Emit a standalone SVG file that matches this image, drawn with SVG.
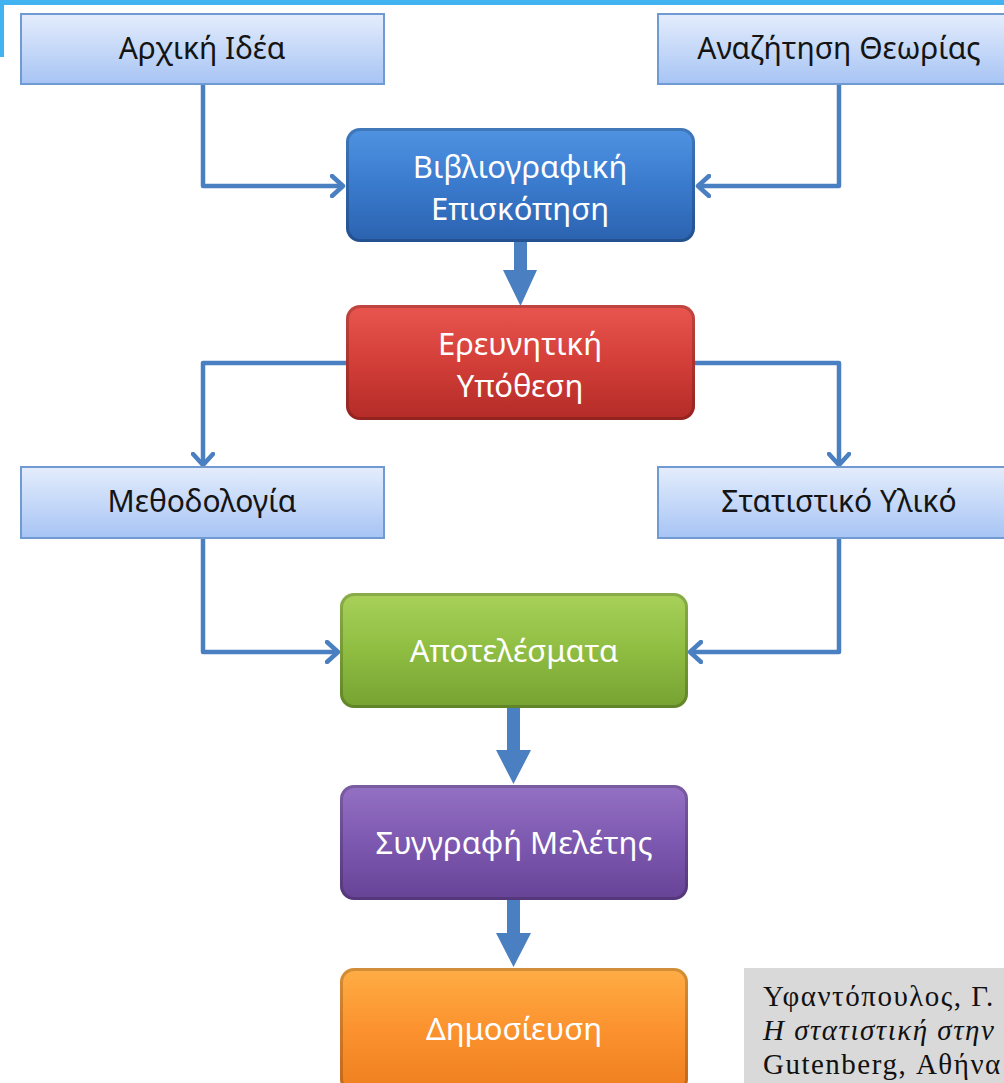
<svg xmlns="http://www.w3.org/2000/svg" width="1004" height="1083" viewBox="0 0 1004 1083">
<style>
.lt{font-family:"Noto Sans","DejaVu Sans",sans-serif;font-size:30px;fill:#141414;text-anchor:middle}
.wt{font-family:"Noto Sans","DejaVu Sans",sans-serif;font-size:31px;fill:#ffffff;text-anchor:middle}
.lbox{fill:url(#gl);stroke:#6f9bd2;stroke-width:2}
.conn{fill:none;stroke:#4a7fc1;stroke-width:4.5;stroke-linejoin:round}
.thick{fill:#4a7fc1}
.cit{font-family:"Liberation Serif","DejaVu Serif",serif;font-size:29px;letter-spacing:1.5px;fill:#111}
.sh{fill:none;stroke:#000;stroke-opacity:0.18;stroke-width:3}
</style>
<defs>
<linearGradient id="gl" x1="0" y1="0" x2="0" y2="1"><stop offset="0" stop-color="#e4edfc"/><stop offset="1" stop-color="#a7c4f4"/></linearGradient>
<linearGradient id="gb" x1="0" y1="0" x2="0" y2="1"><stop offset="0" stop-color="#4f93e2"/><stop offset="0.5" stop-color="#3a7acd"/><stop offset="1" stop-color="#2b62ae"/></linearGradient>
<linearGradient id="gr" x1="0" y1="0" x2="0" y2="1"><stop offset="0" stop-color="#e9564f"/><stop offset="0.5" stop-color="#d33e38"/><stop offset="1" stop-color="#b32b27"/></linearGradient>
<linearGradient id="gg" x1="0" y1="0" x2="0" y2="1"><stop offset="0" stop-color="#a8d15a"/><stop offset="0.5" stop-color="#8fbd42"/><stop offset="1" stop-color="#76a231"/></linearGradient>
<linearGradient id="gp" x1="0" y1="0" x2="0" y2="1"><stop offset="0" stop-color="#9571c4"/><stop offset="0.5" stop-color="#7d58b0"/><stop offset="1" stop-color="#674396"/></linearGradient>
<linearGradient id="go" x1="0" y1="0" x2="0" y2="1"><stop offset="0" stop-color="#ffad45"/><stop offset="0.5" stop-color="#fb922e"/><stop offset="1" stop-color="#ee7e1e"/></linearGradient>
<marker id="open" viewBox="0 0 16 24" refX="13" refY="12" markerWidth="16" markerHeight="24" markerUnits="userSpaceOnUse" orient="auto">
<path d="M2,2 L13,12 L2,22" fill="none" stroke="#4a7fc1" stroke-width="4.5" stroke-linecap="round" stroke-linejoin="round"/>
</marker>
</defs>
<rect width="1004" height="1083" fill="#ffffff"/>
<g id="frame">
<rect x="0" y="0" width="1004" height="5" fill="#41b3f0"/>
<rect x="0" y="0" width="4" height="57" fill="#41b3f0"/>
</g>
<g id="connectors">
<path class="conn" d="M203,84 V186 H343" marker-end="url(#open)"/>
<path class="conn" d="M839,84 V186 H698" marker-end="url(#open)"/>
<path class="conn" d="M346,363 H203 V465" marker-end="url(#open)"/>
<path class="conn" d="M695,363 H839 V465" marker-end="url(#open)"/>
<path class="conn" d="M203,538 V652 H338" marker-end="url(#open)"/>
<path class="conn" d="M839,538 V652 H690" marker-end="url(#open)"/>
<polygon class="thick" points="514,242 527,242 527,270 537,270 520.5,306 503,270 514,270"/>
<polygon class="thick" points="507,708 520,708 520,750 531,750 513.5,784 496,750 507,750"/>
<polygon class="thick" points="507,900 520,900 520,933 531,933 513.5,967 496,933 507,933"/>
</g>
<g id="n-arxiki">
<rect class="lbox" x="21" y="14" width="363" height="70"/>
<text class="lt" x="202" y="59">Αρχική Ιδέα</text>
</g>
<g id="n-anazitisi">
<rect class="lbox" x="658" y="14" width="363" height="70"/>
<text class="lt" x="839" y="59">Αναζήτηση Θεωρίας</text>
</g>
<g id="n-vivlio">
<rect x="346" y="128" width="349" height="114" rx="14" fill="url(#gb)"/>
<rect class="sh" x="347.5" y="129.5" width="346" height="111" rx="13"/>
<text class="wt" x="520" y="178">Βιβλιογραφική</text>
<text class="wt" x="520" y="220">Επισκόπηση</text>
</g>
<g id="n-ereuna">
<rect x="346" y="305" width="349" height="115" rx="14" fill="url(#gr)"/>
<rect class="sh" x="347.5" y="306.5" width="346" height="112" rx="13"/>
<text class="wt" x="520" y="355">Ερευνητική</text>
<text class="wt" x="520" y="397">Υπόθεση</text>
</g>
<g id="n-methodologia">
<rect class="lbox" x="21" y="467" width="363" height="71"/>
<text class="lt" x="202" y="512">Μεθοδολογία</text>
</g>
<g id="n-statistiko">
<rect class="lbox" x="658" y="467" width="363" height="71"/>
<text class="lt" x="839" y="512">Στατιστικό Υλικό</text>
</g>
<g id="n-apotelesmata">
<rect x="340" y="593" width="348" height="115" rx="14" fill="url(#gg)"/>
<rect class="sh" x="341.5" y="594.5" width="345" height="112" rx="13"/>
<text class="wt" x="514" y="662">Αποτελέσματα</text>
</g>
<g id="n-syggrafi">
<rect x="340" y="785" width="348" height="115" rx="14" fill="url(#gp)"/>
<rect class="sh" x="341.5" y="786.5" width="345" height="112" rx="13"/>
<text class="wt" x="514" y="854">Συγγραφή Μελέτης</text>
</g>
<g id="n-dimosieusi">
<rect x="340" y="968" width="348" height="125" rx="14" fill="url(#go)"/>
<rect class="sh" x="341.5" y="969.5" width="345" height="122" rx="13"/>
<text class="wt" x="514" y="1040">Δημοσίευση</text>
</g>
<g id="citation">
<rect x="744" y="968" width="270" height="120" fill="#d9d9d9"/>
<text class="cit" x="763" y="1006">Υφαντόπουλος, Γ. Ν.</text>
<text class="cit" x="763" y="1040" font-style="italic">Η στατιστική στην</text>
<text class="cit" x="763" y="1074">Gutenberg, Αθήνα</text>
</g>
</svg>
